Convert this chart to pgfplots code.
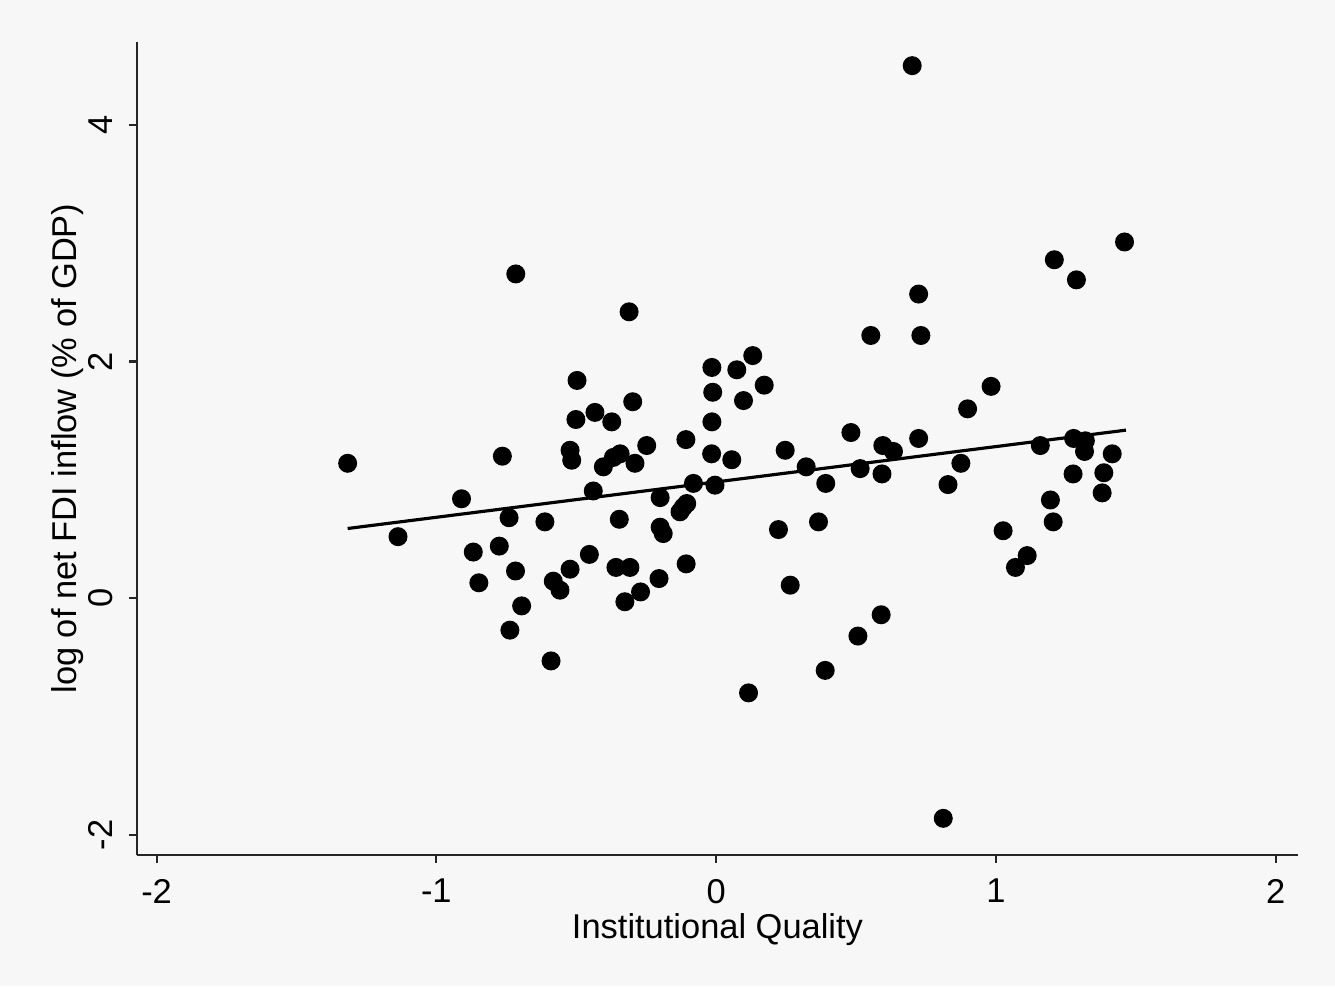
\documentclass[border=0pt]{standalone}
\usepackage{pgfplots}
\pgfplotsset{compat=1.18}
\usepackage{fontspec}
\setmainfont{Liberation Sans}
\definecolor{bg}{RGB}{247,247,247}
\begin{document}
\begin{tikzpicture}
\useasboundingbox (0,0) rectangle (133.5mm,98.6mm);
\fill[bg] (0,0) rectangle (133.5mm,98.6mm);
\begin{axis}[
  at={(13.7mm,13.1mm)}, anchor=south west,
  scale only axis, width=116.1mm, height=81.3mm,
  xmin=-2.07, xmax=2.08, ymin=-2.17, ymax=4.70,
  axis x line*=bottom, axis y line*=left,
  axis line style={line width=0.85pt, black!85, -},
  xtick={-2,-1,0,1,2}, ytick={-2,0,2,4},
  tick align=outside, major tick length=0.75mm,
  tick style={black!85, line width=0.6pt},
  font=\fontsize{9.8}{11.8}\selectfont,
  /pgf/number format/assume math mode=true,
  xticklabel style={anchor=north, inner sep=0pt},
  yticklabel style={rotate=90, anchor=south, inner sep=0pt},
  xticklabel shift=1.6mm, yticklabel shift=1.6mm,
  every axis x label/.style={at={(axis description cs:0.5,-0.092)}, anchor=center},
  every axis y label/.style={at={(axis description cs:-0.0594,0.5)}, rotate=90, anchor=center},
  xlabel={Institutional Quality},
  ylabel={log of net FDI inflow (\% of GDP)},
  clip=false,
]
\addplot[only marks, mark=*, mark size=2.5pt, black] coordinates {
(-1.317,1.14) (-1.137,0.52) (-0.91,0.84) (-0.868,0.39) (-0.848,0.13)
(-0.775,0.44) (-0.764,1.20) (-0.74,0.68) (-0.737,-0.27) (-0.717,0.23)
(-0.716,2.74) (-0.695,-0.065) (-0.612,0.645) (-0.59,-0.53) (-0.582,0.144)
(-0.558,0.068) (-0.522,0.245) (-0.522,1.25) (-0.516,1.166) (-0.497,1.84)
(-0.501,1.51) (-0.453,0.37) (-0.439,0.906) (-0.433,1.57) (-0.403,1.11)
(-0.373,1.49) (-0.367,1.19) (-0.358,0.26) (-0.346,0.667) (-0.343,1.22)
(-0.326,-0.03) (-0.311,2.42) (-0.308,0.26) (-0.298,1.66) (-0.29,1.14)
(-0.27,0.053) (-0.248,1.29) (-0.204,0.166) (-0.20,0.85) (-0.20,0.60)
(-0.189,0.546) (-0.129,0.73) (-0.117,0.77) (-0.108,1.34) (-0.107,0.29)
(-0.105,0.80) (-0.081,0.97) (-0.016,1.22) (-0.015,1.49) (-0.012,1.74)
(-0.015,1.95) (-0.004,0.955) (0.056,1.17) (0.074,1.93) (0.098,1.67)
(0.131,2.05) (0.172,1.80) (0.116,-0.80) (0.223,0.58) (0.247,1.25)
(0.265,0.11) (0.322,1.11) (0.366,0.645) (0.392,0.97) (0.39,-0.61)
(0.482,1.40) (0.507,-0.32) (0.515,1.095) (0.553,2.22) (0.59,-0.14)
(0.593,1.05) (0.596,1.29) (0.634,1.24) (0.701,4.50) (0.724,2.57)
(0.724,1.35) (0.732,2.22) (0.812,-1.86) (0.829,0.96) (0.875,1.14)
(0.899,1.60) (0.983,1.79) (1.026,0.57) (1.07,0.26) (1.112,0.36)
(1.159,1.29) (1.195,0.83) (1.205,0.645) (1.209,2.86) (1.276,1.05)
(1.278,1.35) (1.288,2.69) (1.317,1.24) (1.32,1.33) (1.38,0.89)
(1.386,1.06) (1.416,1.22) (1.46,3.01)
};
\addplot[black, line width=0.9pt, no marks] coordinates {(-1.317,0.589) (1.465,1.42)};
\end{axis}
\end{tikzpicture}
\end{document}
